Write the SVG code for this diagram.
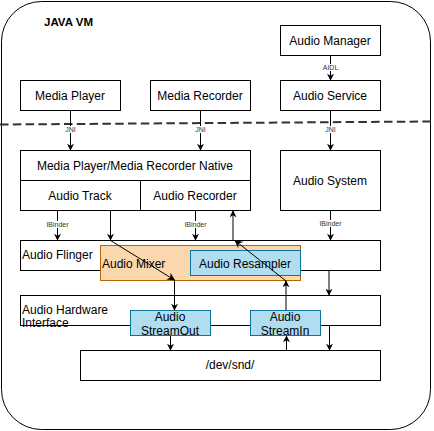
<svg xmlns="http://www.w3.org/2000/svg" width="434" height="431" viewBox="0 0 434 431">
<defs>
<marker id="ah" viewBox="0 0 10 10" refX="9" refY="5" markerWidth="7" markerHeight="7" markerUnits="userSpaceOnUse" orient="auto">
<path d="M0,0 L10,5 L0,10 L3,5 Z" fill="#000"/>
</marker>
<marker id="ahs" viewBox="0 0 10 10" refX="9" refY="5" markerWidth="8" markerHeight="8" markerUnits="userSpaceOnUse" orient="auto">
<path d="M0,0 L10,5 L0,10 L3,5 Z" fill="#000"/>
</marker>
<style>
.box{fill:#fff;stroke:#000;stroke-width:1}
.blue{fill:#b1ddf0;stroke:#10739e;stroke-width:1}
.orange{fill:#fad7ac;stroke:#b46504;stroke-width:1}
.t{font-family:"Liberation Sans",Arial,sans-serif;font-size:12px;fill:#000;text-anchor:middle;dominant-baseline:central}
.tl{font-family:"Liberation Sans",Arial,sans-serif;font-size:12px;fill:#000;dominant-baseline:central}
.s{font-family:"Liberation Sans",Arial,sans-serif;font-size:7px;fill:#333;text-anchor:middle;dominant-baseline:central}
.c{fill:none;stroke:#000;stroke-width:1}
.lb{fill:#fff}
</style>
</defs>
<g id="javavm">
<rect x="1.5" y="1.5" width="429" height="428" rx="40" ry="40" fill="#fff" stroke="#000" stroke-width="1"/>
<text x="44" y="22" font-family="Liberation Sans,Arial,sans-serif" font-size="11.5" font-weight="bold" dominant-baseline="central">JAVA VM</text>
</g>
<line x1="0" y1="124.5" x2="431" y2="121.5" stroke="#333" stroke-width="2" stroke-dasharray="8.5 4.3"/>
<g id="audio-manager"><rect class="box" x="280.5" y="25.5" width="100" height="30"/><text class="t" x="330" y="40.5">Audio Manager</text></g>
<g id="media-player"><rect class="box" x="20.5" y="80.5" width="100" height="30"/><text class="t" x="70" y="95.5">Media Player</text></g>
<g id="media-recorder"><rect class="box" x="150.5" y="80.5" width="100" height="30"/><text class="t" x="200" y="95.5">Media Recorder</text></g>
<g id="audio-service"><rect class="box" x="280.5" y="80.5" width="100" height="30"/><text class="t" x="330" y="95.5">Audio Service</text></g>
<g id="native"><rect class="box" x="20.5" y="150.5" width="230" height="30"/><text class="t" x="135" y="165.5">Media Player/Media Recorder Native</text></g>
<g id="audio-track"><rect class="box" x="20.5" y="180.5" width="120" height="30"/><text class="t" x="80" y="195.5">Audio Track</text></g>
<g id="audio-recorder"><rect class="box" x="140.5" y="180.5" width="110" height="30"/><text class="t" x="195" y="195.5">Audio Recorder</text></g>
<g id="audio-system"><rect class="box" x="280.5" y="150.5" width="100" height="60"/><text class="t" x="330" y="180.5">Audio System</text></g>
<g id="audio-flinger"><rect class="box" x="20.5" y="240.5" width="360" height="30"/><text class="tl" x="22" y="254.5">Audio Flinger</text></g>
<g id="audio-mixer"><rect class="orange" x="100.5" y="245.5" width="200" height="35"/><text class="tl" x="102" y="263.5">Audio Mixer</text></g>
<g id="audio-resampler"><rect class="blue" x="190.5" y="250.5" width="110" height="25"/><text class="t" x="245" y="263.5">Audio Resampler</text></g>
<g id="audio-hw"><rect class="box" x="20.5" y="295.5" width="360" height="30"/><text class="tl" x="22" y="309.5">Audio Hardware</text><text class="tl" x="22" y="323">Interface</text></g>
<g id="stream-out"><rect class="blue" x="130.5" y="310.5" width="80" height="25"/><text class="t" x="170" y="316.5">Audio</text><text class="t" x="170" y="330.5">StreamOut</text></g>
<g id="stream-in"><rect class="blue" x="250.5" y="310.5" width="70" height="25"/><text class="t" x="285" y="316.5">Audio</text><text class="t" x="285" y="330.5">StreamIn</text></g>
<g id="dev-snd"><rect class="box" x="80.5" y="350.5" width="300" height="30"/><text class="t" x="230" y="364.5">/dev/snd/</text></g>
<g id="connectors">
<line class="c" x1="330.5" y1="56" x2="330.5" y2="80" marker-end="url(#ah)"/>
<rect class="lb" x="321" y="64" width="19" height="7"/><text class="s" x="330.5" y="67.5">AIDL</text>
<line class="c" x1="70.5" y1="111" x2="70.5" y2="150" marker-end="url(#ah)"/>
<rect class="lb" x="64" y="126" width="13" height="7"/><text class="s" x="70.5" y="129.5">JNI</text>
<line class="c" x1="200.5" y1="111" x2="200.5" y2="150" marker-end="url(#ah)"/>
<rect class="lb" x="194" y="126" width="13" height="7"/><text class="s" x="200.5" y="129.5">JNI</text>
<line class="c" x1="330.5" y1="111" x2="330.5" y2="150" marker-end="url(#ah)"/>
<rect class="lb" x="324" y="126" width="13" height="7"/><text class="s" x="330.5" y="129.5">JNI</text>
<line class="c" x1="57.5" y1="211" x2="57.5" y2="240" marker-end="url(#ah)"/>
<rect class="lb" x="46" y="221" width="23" height="7"/><text class="s" x="57.5" y="224.5">IBinder</text>
<line class="c" x1="195.5" y1="211" x2="195.5" y2="240" marker-end="url(#ah)"/>
<rect class="lb" x="184" y="221" width="23" height="7"/><text class="s" x="195.5" y="224.5">IBinder</text>
<line class="c" x1="330.5" y1="211" x2="330.5" y2="240" marker-end="url(#ah)"/>
<rect class="lb" x="319" y="220" width="23" height="7"/><text class="s" x="330.5" y="223.5">IBinder</text>
<line class="c" x1="110.5" y1="211" x2="110.5" y2="240" marker-end="url(#ah)"/>
<line class="c" x1="110.5" y1="240.5" x2="174.5" y2="280" marker-end="url(#ahs)"/>
<line class="c" x1="174.5" y1="280" x2="174.5" y2="310" marker-end="url(#ah)"/>
<line class="c" x1="233" y1="240" x2="233" y2="211" marker-end="url(#ah)"/>
<line class="c" x1="286" y1="281" x2="235" y2="240.5" marker-end="url(#ahs)"/>
<line class="c" x1="286" y1="310" x2="286" y2="281" marker-end="url(#ah)"/>
<line class="c" x1="329" y1="271" x2="329" y2="295" marker-end="url(#ah)"/>
<line class="c" x1="329.5" y1="326" x2="329.5" y2="350" marker-end="url(#ah)"/>
<line class="c" x1="170.5" y1="336" x2="170.5" y2="350" marker-end="url(#ah)"/>
<line class="c" x1="286.5" y1="350" x2="286.5" y2="336" marker-end="url(#ah)"/>
</g>
</svg>
